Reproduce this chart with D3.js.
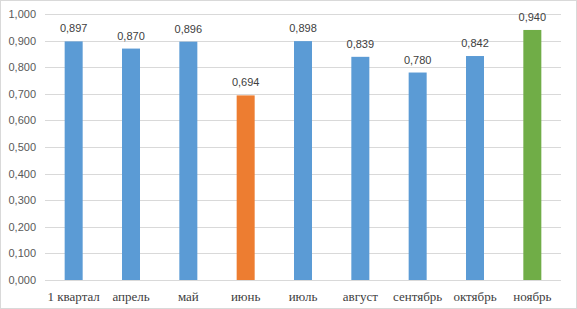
<!DOCTYPE html>
<html>
<head>
<meta charset="utf-8">
<script src="https://cdn.jsdelivr.net/npm/d3@7"></script>
<style>
  body { margin: 0; background: #fff; }
</style>
</head>
<body>
<div id="chart"></div>
<script>
const categories = ["1 квартал", "апрель", "май", "июнь", "июль", "август", "сентябрь", "октябрь", "ноябрь"];
const values = [0.897, 0.870, 0.896, 0.694, 0.898, 0.839, 0.780, 0.842, 0.940];
const barColors = ["#5B9BD5", "#5B9BD5", "#5B9BD5", "#ED7D31", "#5B9BD5", "#5B9BD5", "#5B9BD5", "#5B9BD5", "#70AD47"];
const yTicks = [0, 0.1, 0.2, 0.3, 0.4, 0.5, 0.6, 0.7, 0.8, 0.9, 1.0];

const width = 577, height = 309;
const margin = {top: 14, right: 16, bottom: 29, left: 45};
const fmt = v => d3.format(".3f")(v).replace(".", ",");

const svg = d3.select("#chart")
    .append("svg")
    .attr("width", width)
    .attr("height", height);

svg.append("rect")
    .attr("x", 0.5).attr("y", 0.5)
    .attr("width", width - 1).attr("height", height - 1)
    .attr("fill", "#fff")
    .attr("stroke", "#D9D9D9");

const x = d3.scaleBand()
    .domain(categories)
    .range([margin.left, width - margin.right])
    .paddingInner(0.686)
    .paddingOuter(0.343);

const y = d3.scaleLinear()
    .domain([0, 1])
    .range([height - margin.bottom, margin.top]);

// gridlines
svg.append("g")
    .selectAll("line")
    .data(yTicks)
    .enter()
    .append("line")
    .attr("x1", margin.left)
    .attr("x2", width - margin.right)
    .attr("y1", d => Math.round(y(d)) + 0.5)
    .attr("y2", d => Math.round(y(d)) + 0.5)
    .attr("stroke", "#D9D9D9")
    .attr("stroke-width", 1);

// y axis labels
const yAxis = svg.append("g")
    .attr("transform", `translate(${margin.left - 6},0)`)
    .call(d3.axisLeft(y).tickValues(yTicks).tickFormat(fmt).tickSize(0));
yAxis.select(".domain").remove();
yAxis.selectAll("text")
    .attr("fill", "#595959")
    .attr("font-family", "'Liberation Sans', Arial, sans-serif")
    .attr("font-size", "11px");

// bars
svg.selectAll(".bar")
    .data(values)
    .enter()
    .append("rect")
    .attr("class", "bar")
    .attr("x", (d, i) => x(categories[i]))
    .attr("y", d => y(d))
    .attr("width", x.bandwidth())
    .attr("height", d => y(0) - y(d))
    .attr("fill", (d, i) => barColors[i]);

// value labels
svg.selectAll(".val")
    .data(values)
    .enter()
    .append("text")
    .attr("class", "val")
    .attr("x", (d, i) => x(categories[i]) + x.bandwidth() / 2)
    .attr("y", d => y(d) - 9)
    .attr("text-anchor", "middle")
    .attr("fill", "#404040")
    .attr("font-family", "'Liberation Sans', Arial, sans-serif")
    .attr("font-size", "11px")
    .text(d => fmt(d));

// x axis
const xAxis = svg.append("g")
    .attr("transform", `translate(0,${height - margin.bottom})`)
    .call(d3.axisBottom(x).tickSize(0).tickPadding(12));
xAxis.select(".domain").remove();
xAxis.selectAll("text")
    .attr("fill", "#404040")
    .attr("font-family", "'Liberation Serif', 'Times New Roman', serif")
    .attr("font-size", "13px");
</script>
</body>
</html>
